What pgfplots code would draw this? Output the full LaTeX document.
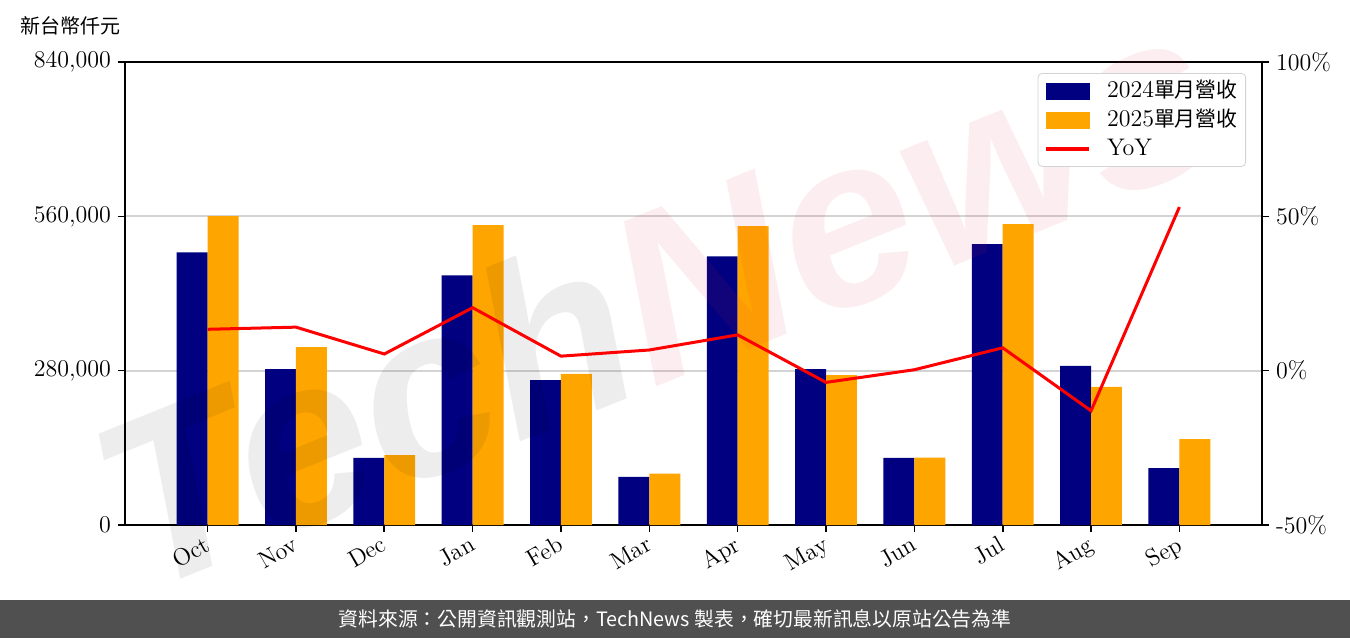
\documentclass[border=0pt]{standalone}
\usepackage{fontspec}
\usepackage{pgfplots}
\pgfplotsset{compat=1.18}
\newfontfamily\cjk[Scale=0.87]{Noto Sans CJK TC}
\newfontfamily\cjkplain{Noto Sans CJK TC}
\newfontfamily\wmfont{Liberation Sans}
\definecolor{navyc}{RGB}{0,0,128}
\definecolor{orangec}{RGB}{255,165,0}
\definecolor{redc}{RGB}{255,0,0}
\definecolor{footgray}{RGB}{80,80,80}
\definecolor{gridc}{RGB}{211,211,211}
\definecolor{wmpink}{RGB}{220,40,60}

\pgfplotstableread{
x y2024 y2025 yoy
0  494700 560500 13.4
1  282700 322500 14.1
2  122000 127000 5.4
3  453000 544200 20.4
4  262700 274200 4.7
5  87500  93000  6.7
6  487400 542300 11.6
7  282700 271800 -3.8
8  122000 122300 0.3
9  509700 546000 7.4
10 288700 250700 -13.0
11 103000 156000 53.0
}\datatable

\begin{document}
\begin{tikzpicture}
\path[use as bounding box] (-62.5pt,-56.5pt) rectangle (612.5pt,262.5pt);
\fill[footgray] (-62.5pt,-56.5pt) rectangle (612.5pt,-37.5pt);
\node[text=white, font=\cjkplain\fontsize{9.9}{11}\selectfont] at (275pt,-47pt) {資料來源：公開資訊觀測站，TechNews 製表，確切最新訊息以原站公告為準};
\node[font=\cjkplain\fontsize{10}{12}\selectfont, anchor=west] at (-56pt,249.5pt) {新台幣仟元};

\begin{axis}[
  at={(0pt,0pt)}, anchor=south west,
  scale only axis, width=568.5pt, height=231.5pt,
  xmin=-0.935, xmax=11.935,
  ymin=0, ymax=840000,
  scaled y ticks=false,
  axis line style={black, line width=1pt},
  tick style={black, line width=0.8pt},
  tick align=outside,
  major tick length=3.5pt,
  xtick pos=bottom, ytick pos=left,
  xtick={0,...,11},
  xticklabels={Oct,Nov,Dec,Jan,Feb,Mar,Apr,May,Jun,Jul,Aug,Sep},
  xticklabel style={rotate=30, anchor=north east, font=\fontsize{12}{14}\selectfont, inner sep=1pt, yshift=1pt, xshift=-1.5pt},
  ytick={0,280000,560000,840000},
  yticklabels={0,{280,000},{560,000},{840,000}},
  yticklabel style={font=\fontsize{12}{14}\selectfont},
  ymajorgrids,
  grid style={gridc, line width=0.9pt},
]
\addplot[ybar, bar width=0.35, bar shift=-0.175, fill=navyc, draw=none] table[x=x, y=y2024] {\datatable};
\addplot[ybar, bar width=0.35, bar shift=0.175, fill=orangec, draw=none] table[x=x, y=y2025] {\datatable};
\end{axis}

\node[rotate=22, font=\wmfont\bfseries\itshape\fontsize{120}{120}\selectfont, inner sep=0pt] at (265pt,115pt)
  {\textcolor{black}{\pgfsetfillopacity{0.07}Tech}\textcolor{wmpink}{\pgfsetfillopacity{0.08}News}};

\begin{axis}[
  at={(0pt,0pt)}, anchor=south west,
  scale only axis, width=568.5pt, height=231.5pt,
  xmin=-0.935, xmax=11.935,
  ymin=-50, ymax=100,
  axis x line=none,
  axis y line*=right,
  axis line style={black, line width=1pt},
  tick style={black, line width=0.8pt},
  tick align=outside,
  major tick length=3.5pt,
  ytick={-50,0,50,100},
  yticklabels={-50\%,0\%,50\%,100\%},
  yticklabel style={font=\fontsize{12}{14}\selectfont},
  legend style={at={(1,1)}, anchor=north east, xshift=-8pt, yshift=-5.5pt,
    draw=gridc, rounded corners=2pt, fill=white,
    font=\fontsize{12}{14}\selectfont, row sep=2pt, column sep=7pt, inner xsep=3pt, inner ysep=2.5pt,
    nodes={inner sep=1pt, text height=8.5pt, text depth=2pt}},
  legend cell align=left,
]
\addlegendimage{legend image code/.code={\fill[navyc, sharp corners] (0pt,-4pt) rectangle (21.5pt,4pt);}}
\addlegendentry{2024{\cjk 單月營收}}
\addlegendimage{legend image code/.code={\fill[orangec, sharp corners] (0pt,-4pt) rectangle (21.5pt,4pt);}}
\addlegendentry{2025{\cjk 單月營收}}
\addplot[redc, line width=1.5pt, mark=none, legend image code/.code={\draw[redc, line width=2pt, sharp corners] (0pt,0pt) -- (21.5pt,0pt);}] table[x=x, y=yoy] {\datatable};
\addlegendentry{YoY}
\end{axis}
\end{tikzpicture}
\end{document}
